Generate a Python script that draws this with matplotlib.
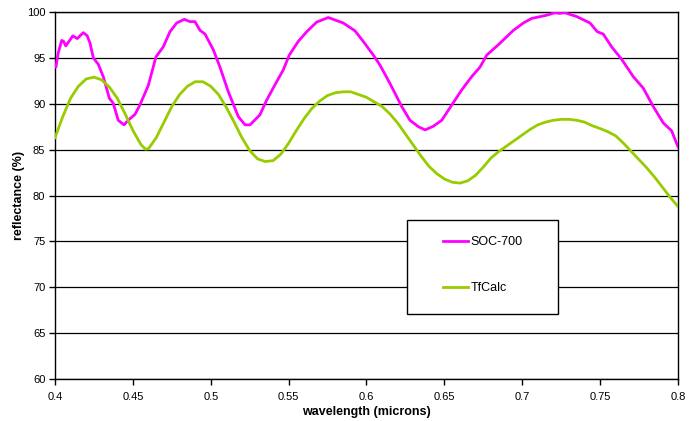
import matplotlib.pyplot as plt
from matplotlib.patches import Rectangle

plt.rcParams['font.family'] = ['Liberation Sans', 'DejaVu Sans']

# measured reflectance (SOC-700)
soc_wl = [0.4000, 0.4006, 0.4020, 0.4043, 0.4055, 0.4069, 0.4090, 0.4114, 0.4143, 0.4160,
          0.4182, 0.4207, 0.4225, 0.4246, 0.4278, 0.4310, 0.4349, 0.4374, 0.4406, 0.4443,
          0.4470, 0.4514, 0.4546, 0.4599, 0.4648, 0.4695, 0.4738, 0.4781, 0.4830, 0.4867,
          0.4899, 0.4931, 0.4963, 0.5016, 0.5059, 0.5113, 0.5177, 0.5220, 0.5252, 0.5316,
          0.5359, 0.5423, 0.5466, 0.5504, 0.5562, 0.5616, 0.5680, 0.5755, 0.5851, 0.5926,
          0.5979, 0.6044, 0.6087, 0.6151, 0.6172, 0.6226, 0.6279, 0.6333, 0.6376, 0.6429,
          0.6483, 0.6547, 0.6611, 0.6675, 0.6729, 0.6772, 0.6857, 0.6943, 0.7007, 0.7061,
          0.7157, 0.7210, 0.7240, 0.7274, 0.7350, 0.7435, 0.7482, 0.7520, 0.7574, 0.7638,
          0.7713, 0.7777, 0.7841, 0.7906, 0.7959, 0.8000]
soc_refl = [94.0, 94.0, 95.5, 96.9, 96.8, 96.3, 96.8, 97.4, 97.1, 97.4,
            97.75, 97.4, 96.6, 95.0, 94.3, 92.95, 90.6, 90.05, 88.2, 87.7,
            88.2, 88.85, 89.9, 92.0, 95.1, 96.2, 97.85, 98.8, 99.2, 98.95,
            98.95, 98.0, 97.6, 95.9, 94.0, 91.3, 88.6, 87.7, 87.7, 88.8,
            90.4, 92.4, 93.7, 95.3, 96.8, 97.85, 98.9, 99.4, 98.8, 97.95,
            96.8, 95.3, 94.2, 92.2, 91.5, 89.7, 88.2, 87.5, 87.15, 87.55,
            88.2, 89.85, 91.5, 92.95, 94.0, 95.3, 96.6, 98.0, 98.8, 99.3,
            99.65, 99.92, 99.85, 99.92, 99.5, 98.8, 97.85, 97.6, 96.2, 94.85,
            92.95, 91.7, 89.7, 87.9, 87.05, 85.3]

# calculated reflectance (TfCalc)
tf_wl = [0.400, 0.405, 0.410, 0.415, 0.420, 0.425, 0.430, 0.435, 0.440, 0.445,
         0.450, 0.455, 0.458, 0.460, 0.465, 0.470, 0.475, 0.480, 0.485, 0.490,
         0.495, 0.500, 0.505, 0.510, 0.515, 0.520, 0.525, 0.530, 0.535, 0.540,
         0.545, 0.550, 0.555, 0.560, 0.565, 0.570, 0.575, 0.580, 0.585, 0.590,
         0.595, 0.600, 0.605, 0.610, 0.615, 0.620, 0.625, 0.630, 0.635, 0.640,
         0.645, 0.650, 0.655, 0.660, 0.665, 0.670, 0.675, 0.680, 0.685, 0.690,
         0.695, 0.700, 0.705, 0.710, 0.715, 0.720, 0.725, 0.730, 0.735, 0.740,
         0.745, 0.750, 0.755, 0.760, 0.765, 0.770, 0.775, 0.780, 0.785, 0.790,
         0.795, 0.800]
tf_refl = [86.3, 88.6, 90.6, 91.9, 92.7, 92.9, 92.6, 91.8, 90.6, 88.9,
           87.1, 85.6, 85.05, 85.1, 86.3, 88.0, 89.7, 91.0, 91.9, 92.4,
           92.4, 91.9, 91.0, 89.6, 88.0, 86.3, 84.9, 84.0, 83.7, 83.8,
           84.5, 85.7, 87.1, 88.4, 89.5, 90.3, 90.9, 91.2, 91.3, 91.3,
           91.0, 90.7, 90.2, 89.7, 88.9, 87.9, 86.7, 85.5, 84.3, 83.2,
           82.4, 81.8, 81.45, 81.35, 81.6, 82.2, 83.1, 84.1, 84.8, 85.4,
           86.0, 86.6, 87.2, 87.7, 88.0, 88.2, 88.3, 88.3, 88.2, 88.0,
           87.6, 87.3, 86.95, 86.5, 85.7, 84.8, 83.9, 83.0, 82.0, 80.9,
           79.8, 78.8]

fig = plt.figure(figsize=(6.96, 4.21), dpi=100)
ax = fig.add_axes([55 / 696, 42 / 421, 623 / 696, 367 / 421])

ax.plot(soc_wl, soc_refl, color='#FF00FF', lw=2, label='SOC-700', zorder=3)
ax.plot(tf_wl, tf_refl, color='#99CC00', lw=2, label='TfCalc', zorder=3)

ax.set_xlim(0.4, 0.8)
ax.set_ylim(60, 100)
ax.set_xticks([0.4, 0.45, 0.5, 0.55, 0.6, 0.65, 0.7, 0.75, 0.8])
ax.set_xticklabels(['0.4', '0.45', '0.5', '0.55', '0.6', '0.65', '0.7', '0.75', '0.8'])
ax.set_yticks(range(60, 101, 5))
ax.tick_params(labelsize=8, length=4, width=1, direction='out', colors='black', pad=3)
ax.tick_params(axis='x', pad=5)
ax.yaxis.grid(True, color='black', lw=0.9)
ax.set_axisbelow(True)
for s in ax.spines.values():
    s.set_color('black')
    s.set_linewidth(1)

ax.set_xlabel('wavelength (microns)', fontsize=9, fontweight='bold', labelpad=3)
ax.set_ylabel('reflectance (%)', fontsize=9, fontweight='bold', labelpad=1)

# legend box
fig.patches.append(Rectangle((407 / 696, 1 - 314 / 421), 151 / 696, 94 / 421,
                             transform=fig.transFigure, facecolor='white',
                             edgecolor='black', lw=1, zorder=5))
leg = fig.legend(loc='upper left', bbox_to_anchor=(443 / 696, 1 - 236 / 421),
                 frameon=False, fontsize=9, handlelength=2.0, handletextpad=0.2,
                 labelspacing=2.75, borderpad=0, borderaxespad=0)
leg.set_zorder(6)

plt.savefig('out.png', dpi=100)
